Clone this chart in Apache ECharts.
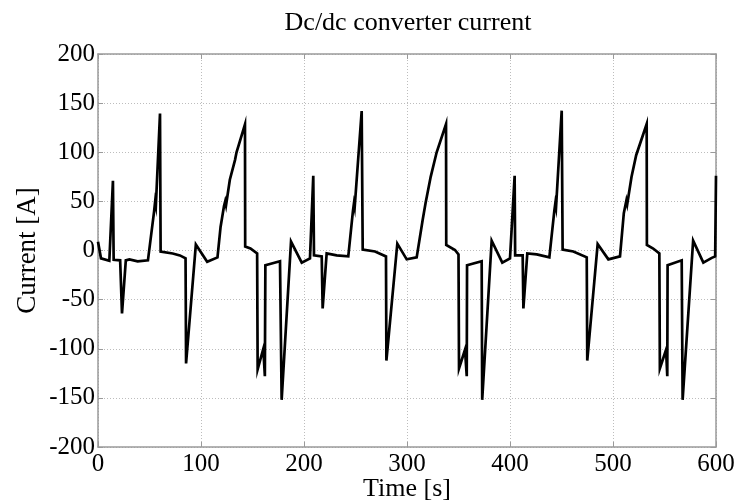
<!DOCTYPE html>
<html>
<head>
<meta charset="utf-8">
<script src="https://cdn.jsdelivr.net/npm/echarts@6/dist/echarts.min.js"></script>
<style>
html,body{margin:0;padding:0;background:#fff;}
#chart{width:735px;height:504px;}
</style>
</head>
<body>
<div id="chart"></div>
<script>
// Time [s]
var timeS = [
  0, 2.9, 11, 14.5, 15.2, 21.5, 23.3, 27, 30.5, 38.5, 48.5, 54.5, 55.5, 56.2, 60.2, 60.8,
  72.5, 79.5, 85, 85.5, 95, 106, 116, 119, 122.3, 123.5, 124.3, 128, 133, 134.5, 142.7, 142.9,
  148, 154.5, 155, 160.5, 162, 162.5, 176.7, 178.3, 187.4, 197.8, 205.8,
  209, 209.7, 217.2, 218.1, 222, 231.7, 243, 247.5, 248.5, 249.2, 256, 257,
  269, 279.6, 280, 290.6, 299.7, 309.4, 315.2, 318, 319, 319.7, 323, 328.8, 337.9, 338.1,
  346.6, 350, 350.5, 356.3, 358, 358.3, 372.5, 373, 382.2, 392.5, 400,
  404.5, 405, 412.3, 413, 416.8, 426, 438.2, 443, 444, 444.7, 450.2, 451.1,
  461.5, 474.5, 475, 485.1, 495.5, 506.8, 510.5, 513, 513.8, 518, 522.5, 532.7, 532.9,
  539, 545, 545.5, 551.5, 552.7, 553, 566.7, 567.6, 577.8, 587.7, 595.9, 599.2, 600
];
// Current [A]
var currentA = [
  9, -8, -10.5, 71, -9.5, -10, -64, -10, -9, -11, -10, 40, 50, 46, 139.5, -1,
  -3, -5, -8, -115, 6, -11.5, -7, 24, 45, 50, 46, 72, 92, 100, 128.5, 4,
  2, -3, -121, -100, -128, -15, -11, -152, 9, -12.4, -8,
  76, -5, -6, -59, -3, -5, -6, 40, 48, 44, 142, 1,
  -1, -6, -112, 7, -9, -7, 31, 48, 50, 46, 75, 100, 128.8, 5.6,
  0.5, -4, -120, -101, -128, -15, -11, -152, 10, -12.4, -8,
  76, -5, -5, -59, -3, -4, -7, 40, 48, 44, 142.3, 1,
  -1, -7, -112, 6.6, -9, -6, 38, 51, 47, 75, 97, 128.8, 5.6,
  2, -3, -120, -101, -128, -15, -10, -152, 10, -12.4, -7.5, -6, 76
];
var xTicks = [0, 100, 200, 300, 400, 500, 600];
var yTicks = [-200, -150, -100, -50, 0, 50, 100, 150, 200];

var points = timeS.map(function (t, i) { return [t, currentA[i]]; });

var serif = '"Liberation Serif", "Times New Roman", serif';
var boxColor = '#9a9a9a';
var chart = echarts.init(document.getElementById('chart'), null, {renderer: 'canvas'});
chart.setOption({
  animation: false,
  backgroundColor: '#ffffff',
  title: {
    text: 'Dc/dc converter current',
    left: 403, top: 5, textAlign: 'center',
    textStyle: {fontFamily: serif, fontSize: 26, fontWeight: 'normal', color: '#000'}
  },
  grid: {left: 98, right: 19, top: 54, bottom: 57, containLabel: false, outerBoundsMode: 'none'},
  xAxis: [{
    type: 'value', min: xTicks[0], max: xTicks[xTicks.length - 1], interval: 100,
    name: 'Time [s]', nameLocation: 'middle', nameGap: 29, nameMoveOverlap: false,
    nameTextStyle: {fontFamily: serif, fontSize: 26, color: '#000'},
    axisLine: {show: true, onZero: false, lineStyle: {color: boxColor, width: 1.5}},
    axisTick: {show: true, inside: true, length: 5, lineStyle: {color: boxColor}},
    axisLabel: {fontFamily: serif, fontSize: 25, color: '#000', margin: 5,
      formatter: function (v) { return String(v); }},
    splitLine: {show: true, lineStyle: {color: '#bdbdbd', type: [1, 2], width: 1}}
  }, {
    type: 'value', position: 'top', min: xTicks[0], max: xTicks[xTicks.length - 1], interval: 100,
    axisLine: {show: true, onZero: false, lineStyle: {color: boxColor, width: 1.5}},
    axisTick: {show: true, inside: true, length: 5, lineStyle: {color: boxColor}},
    axisLabel: {show: false}, splitLine: {show: false}
  }],
  yAxis: [{
    type: 'value', min: yTicks[0], max: yTicks[yTicks.length - 1], interval: 50,
    name: 'Current [A]', nameLocation: 'middle', nameGap: 57, nameRotate: 90, nameMoveOverlap: false,
    nameTextStyle: {fontFamily: serif, fontSize: 27, color: '#000'},
    axisLine: {show: true, onZero: false, lineStyle: {color: boxColor, width: 1.5}},
    axisTick: {show: true, inside: true, length: 5, lineStyle: {color: boxColor}},
    axisLabel: {fontFamily: serif, fontSize: 25, color: '#000', margin: 3,
      padding: [4, 0, 0, 0]},
    splitLine: {show: true, lineStyle: {color: '#bdbdbd', type: [1, 2], width: 1}}
  }, {
    type: 'value', position: 'right', min: yTicks[0], max: yTicks[yTicks.length - 1], interval: 50,
    axisLine: {show: true, onZero: false, lineStyle: {color: boxColor, width: 1.5}},
    axisTick: {show: true, inside: true, length: 5, lineStyle: {color: boxColor}},
    axisLabel: {show: false}, splitLine: {show: false}
  }],
  series: [{
    type: 'line',
    data: points,
    xAxisIndex: 0, yAxisIndex: 0,
    showSymbol: false, symbol: 'none',
    lineStyle: {color: '#000', width: 2.7, join: 'miter'},
    clip: true
  }]
});
</script>
</body>
</html>
